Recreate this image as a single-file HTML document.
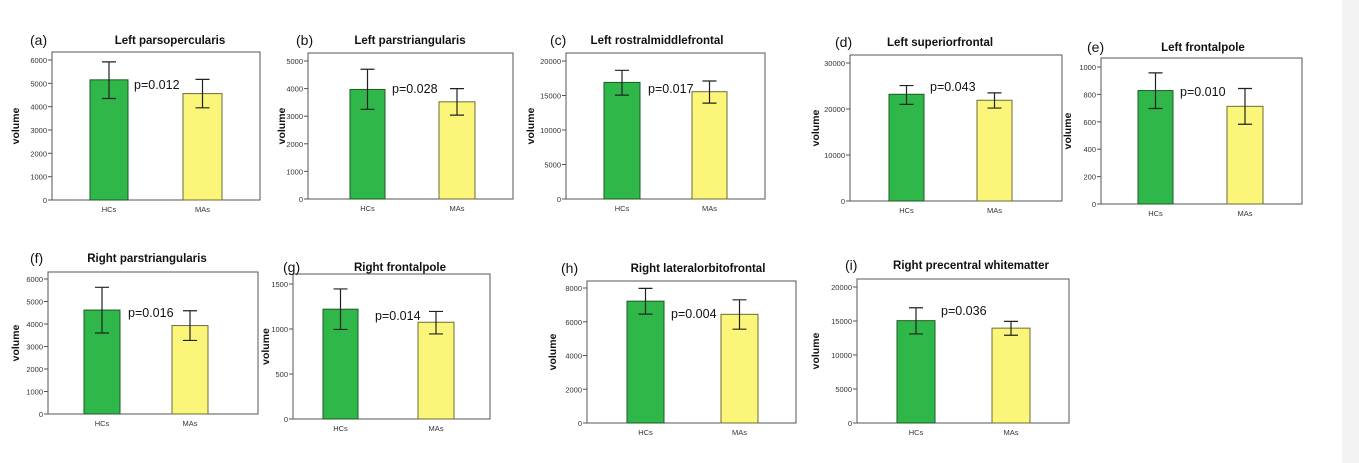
<!DOCTYPE html>
<html><head><meta charset="utf-8">
<style>
html,body{margin:0;padding:0;background:#fff;}
svg{display:block;font-family:"Liberation Sans",Arial,sans-serif;}
</style></head>
<body>
<svg id="fig" width="1359" height="463" viewBox="0 0 1359 463" xmlns="http://www.w3.org/2000/svg">
<rect x="1342" y="0" width="17" height="463" fill="#f3f3f3"/>
</svg>
<script>
const categories = ["HCs","MAs"];
const panelLetters = ["(a)","(b)","(c)","(d)","(e)","(f)","(g)","(h)","(i)"];
const panelTitles = ["Left parsopercularis","Left parstriangularis","Left rostralmiddlefrontal","Left superiorfrontal","Left frontalpole","Right parstriangularis","Right frontalpole","Right lateralorbitofrontal","Right precentral whitematter"];
const hcMeans = [5150,3970,16900,23200,828,4620,1220,7220,15050];
const maMeans = [4560,3520,15550,21900,713,3930,1075,6440,13950];
const hcLow = [4350,3250,15050,21000,697,3600,995,6450,13100];
const hcHigh = [5920,4700,18650,25100,957,5630,1445,7980,16950];
const maLow = [3950,3040,13900,20200,582,3270,945,5560,12900];
const maHigh = [5170,4000,17100,23500,843,4590,1195,7300,14950];
const pLabels = ["p=0.012","p=0.028","p=0.017","p=0.043","p=0.010","p=0.016","p=0.014","p=0.004","p=0.036"];
const tickMax = [6000,5000,20000,30000,1000,6000,1500,8000,20000];
const tickStep = [1000,1000,5000,10000,200,1000,500,2000,5000];

// layout: axis x, right x, box top, zero y, top-tick y, HC bar x0,x1, MA bar x0,x1, letter x, title cx, head y, p x, p y, volume x
const L = [
 [52,260,52,200,60, 90,128,183,222, 30,170,40,134,85,15],
 [308,513,53,199,61, 350,385,439,475, 296,410,40,392,89,281],
 [566,765,53,199,61, 604,640,692,727, 550,657,40,648,89,530],
 [850,1062,55,201,63, 889,924,977,1012, 835,940,42,930,87,815],
 [1101,1302,58,204,67, 1138,1173,1227,1263, 1087,1203,47,1180,92,1067],
 [48,258,272,414,279, 84,120,172,208, 30,147,258,128,313,15],
 [293,490,274,419,284, 323,358,418,454, 283,400,267,375,316,265],
 [587,796,281,423,288, 627,664,721,758, 561,698,268,671,314,552],
 [857,1069,279,423,287, 897,935,992,1030, 845,971,265,941,311,815]
];
const NS="http://www.w3.org/2000/svg";
const svg=document.getElementById('fig');
function mk(tag,attrs,parent,text){const e=document.createElementNS(NS,tag);for(const k in attrs)e.setAttribute(k,attrs[k]);if(text!==undefined)e.textContent=text;(parent||svg).appendChild(e);return e;}

for(let i=0;i<9;i++){
  const [ax,rx,top,y0,yT,h0,h1,m0,m1,lx,tcx,hy,px,py,vx]=L[i];
  const g=mk('g',{});
  
  
  const yScale=v=>y0-(v/tickMax[i])*(y0-yT);
  const fr=mk('rect',{x:ax,y:top,width:rx-ax,height:y0-top,fill:'#fff',stroke:'#555','stroke-width':1},g);
  
  
  for(let v=0;v<=tickMax[i]+1e-9;v+=tickStep[i]){
    const y=yScale(v);
    const tk=mk('line',{x1:ax-4,x2:ax,y1:y,y2:y,stroke:'#555','stroke-width':1},g);
    
    
    const tl=mk('text',{x:ax-5,y:y+3,'font-size':7.5,'text-anchor':'end',fill:'#333'},g,String(v));
    
    
  }
  const bars=[[h0,h1,hcMeans[i],hcLow[i],hcHigh[i],'#2fb74a','#1d5a25'],[m0,m1,maMeans[i],maLow[i],maHigh[i],'#fbf67a','#6b6a3a']];
  bars.forEach((b,j)=>{
    const [x0,x1,m,lo,hi,fill,st]=b;
    const r=mk('rect',{x:x0,y:yScale(m),width:x1-x0,height:y0-yScale(m),fill:fill,stroke:st,'stroke-width':1},g);
    
    
    const cx=(x0+x1)/2;
    const eb=mk('path',{d:`M${cx-7},${yScale(hi)}H${cx+7}M${cx},${yScale(hi)}V${yScale(lo)}M${cx-7},${yScale(lo)}H${cx+7}`,stroke:'#222','stroke-width':1.2,fill:'none'},g);
    
    
    const xl=mk('text',{x:cx,y:y0+12,'font-size':7.5,'text-anchor':'middle',fill:'#333'},g,categories[j]);
    
    
  });
  const lt=mk('text',{x:lx,y:hy+5,'font-size':14,fill:'#111'},g,panelLetters[i]);
  
  
  const tt=mk('text',{x:tcx,y:hy+4,'font-size':11.5,'font-weight':'bold','text-anchor':'middle',fill:'#111'},g,panelTitles[i]);
  
  
  const pv=mk('text',{x:px,y:py+4,'font-size':12.5,fill:'#111'},g,pLabels[i]);
  
  
  const vc=(top+y0)/2;
  const vl=mk('text',{x:vx,y:vc,'font-size':10.5,'font-weight':'bold','text-anchor':'middle',fill:'#111',transform:`rotate(-90 ${vx} ${vc})`,dy:4},g,'volume');
  
  
}
</script>
</body></html>
